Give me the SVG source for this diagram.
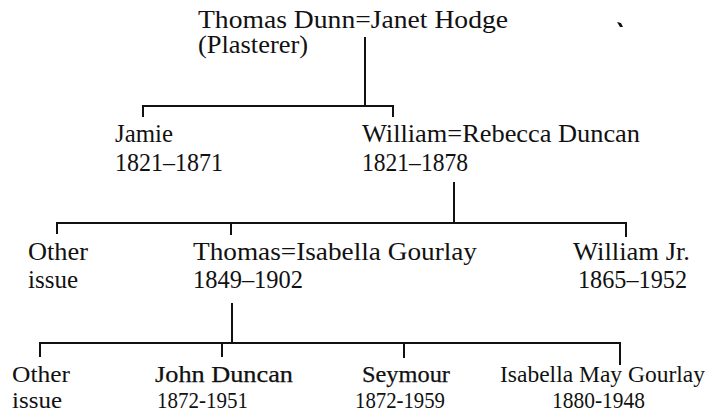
<svg xmlns="http://www.w3.org/2000/svg" width="725" height="418" viewBox="0 0 725 418">
<style>
.t{font-family:"Liberation Serif","Times New Roman",serif;font-size:25px;fill:#111}
.b{font-family:"Liberation Serif","Times New Roman",serif;font-size:23px;fill:#111}
.bb{font-family:"Liberation Serif","Times New Roman",serif;font-size:23px;fill:#111;stroke:#111;stroke-width:0.25}
.ln{fill:none;stroke:#111;stroke-width:2}
</style>
<rect width="725" height="418" fill="#fff"/>
<g id="connectors">
<path class="ln" d="M365 37V106M143 117V106H393V117"/>
<path class="ln" d="M454 182V223M57 234V223H626V237M231 223V235"/>
<path class="ln" d="M232 303V343M40 357V343H620V365M222 343V357M404 343V358"/>
</g>
<g id="n-thomas-dunn">
<text class="t" x="198" y="28" textLength="310" lengthAdjust="spacingAndGlyphs">Thomas Dunn=Janet Hodge</text>
<text class="t" x="198" y="53" textLength="110" lengthAdjust="spacingAndGlyphs">(Plasterer)</text>
</g>
<g id="n-jamie">
<text class="t" x="115" y="142" textLength="58" lengthAdjust="spacingAndGlyphs">Jamie</text>
<text class="t" x="115" y="171" textLength="108" lengthAdjust="spacingAndGlyphs">1821–1871</text>
</g>
<g id="n-william">
<text class="t" x="362" y="142" textLength="278" lengthAdjust="spacingAndGlyphs">William=Rebecca Duncan</text>
<text class="t" x="362" y="171" textLength="106" lengthAdjust="spacingAndGlyphs">1821–1878</text>
</g>
<g id="n-other1">
<text class="t" x="28" y="260" textLength="60" lengthAdjust="spacingAndGlyphs">Other</text>
<text class="t" x="28" y="288" textLength="50" lengthAdjust="spacingAndGlyphs">issue</text>
</g>
<g id="n-thomas">
<text class="t" x="193" y="260" textLength="284" lengthAdjust="spacingAndGlyphs">Thomas=Isabella Gourlay</text>
<text class="t" x="193" y="288" textLength="110" lengthAdjust="spacingAndGlyphs">1849–1902</text>
</g>
<g id="n-william-jr">
<text class="t" x="573" y="260" textLength="117" lengthAdjust="spacingAndGlyphs">William Jr.</text>
<text class="t" x="578" y="288" textLength="109" lengthAdjust="spacingAndGlyphs">1865–1952</text>
</g>
<g id="n-other2">
<text class="b" x="12" y="382" textLength="58" lengthAdjust="spacingAndGlyphs">Other</text>
<text class="b" x="12" y="408" textLength="50" lengthAdjust="spacingAndGlyphs">issue</text>
</g>
<g id="n-john">
<text class="bb" x="155" y="382" textLength="138" lengthAdjust="spacingAndGlyphs">John Duncan</text>
<text class="b" x="157" y="408" textLength="91" lengthAdjust="spacingAndGlyphs">1872-1951</text>
</g>
<g id="n-seymour">
<text class="bb" x="362" y="382" textLength="88" lengthAdjust="spacingAndGlyphs">Seymour</text>
<text class="b" x="355" y="408" textLength="90" lengthAdjust="spacingAndGlyphs">1872-1959</text>
</g>
<g id="n-isabella">
<text class="b" x="500" y="382" textLength="205" lengthAdjust="spacingAndGlyphs">Isabella May Gourlay</text>
<text class="b" x="552" y="408" textLength="93" lengthAdjust="spacingAndGlyphs">1880-1948</text>
</g>
<path d="M617 22L621 23L623 27L620 27Z" fill="#111"/>
</svg>
